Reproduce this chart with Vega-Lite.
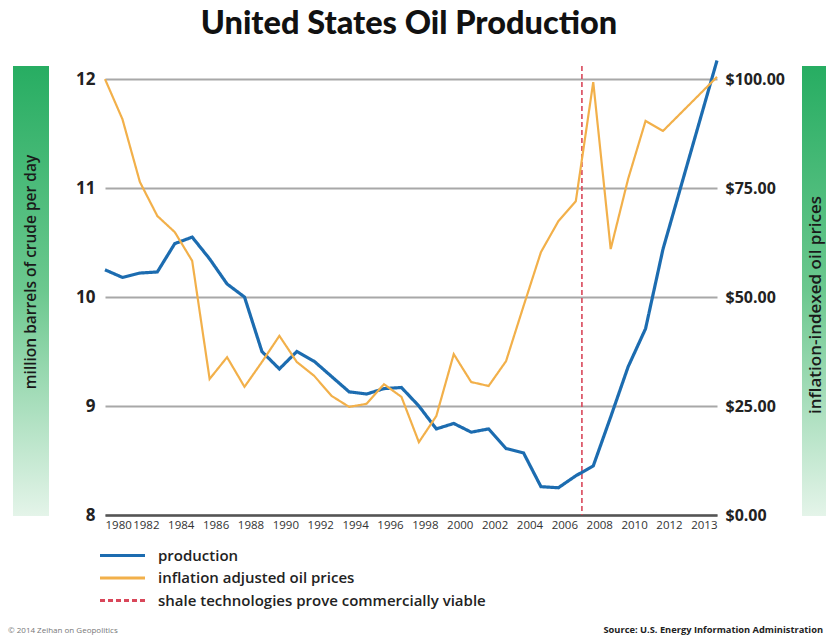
{
  "$schema": "https://vega.github.io/schema/vega-lite/v6.json",
  "background": "white",
  "padding": {"left": 8, "top": 7, "right": 0, "bottom": 0},
  "config": {"view": {"stroke": null}, "font": "Open Sans", "axisX": {"labelOverlap": false}},
  "title": {"text": "United States Oil Production", "font": "Lato", "fontSize": 32.5, "fontWeight": 900, "color": "#111111", "anchor": "middle", "offset": 14, "dx": -8},
  "datasets": {
    "production": [
      {"year": 1980, "value": 10.25}, {"year": 1981, "value": 10.18}, {"year": 1982, "value": 10.22}, {"year": 1983, "value": 10.23},
      {"year": 1984, "value": 10.49}, {"year": 1985, "value": 10.55}, {"year": 1986, "value": 10.35}, {"year": 1987, "value": 10.12},
      {"year": 1988, "value": 10.0}, {"year": 1989, "value": 9.5}, {"year": 1990, "value": 9.34}, {"year": 1991, "value": 9.5},
      {"year": 1992, "value": 9.41}, {"year": 1993, "value": 9.27}, {"year": 1994, "value": 9.13}, {"year": 1995, "value": 9.11},
      {"year": 1996, "value": 9.16}, {"year": 1997, "value": 9.17}, {"year": 1998, "value": 9.0}, {"year": 1999, "value": 8.79},
      {"year": 2000, "value": 8.84}, {"year": 2001, "value": 8.76}, {"year": 2002, "value": 8.79}, {"year": 2003, "value": 8.61},
      {"year": 2004, "value": 8.57}, {"year": 2005, "value": 8.26}, {"year": 2006, "value": 8.25}, {"year": 2007, "value": 8.36},
      {"year": 2008, "value": 8.45}, {"year": 2009, "value": 8.9}, {"year": 2010, "value": 9.36}, {"year": 2011, "value": 9.71},
      {"year": 2012, "value": 10.44}, {"year": 2013, "value": 12.17}
    ],
    "prices": [
      {"year": 1980, "price": 100.0}, {"year": 1981, "price": 90.8}, {"year": 1982, "price": 76.4}, {"year": 1983, "price": 68.6},
      {"year": 1984, "price": 64.9}, {"year": 1985, "price": 58.3}, {"year": 1986, "price": 31.2}, {"year": 1987, "price": 36.2},
      {"year": 1988, "price": 29.4}, {"year": 1989, "price": 35.1}, {"year": 1990, "price": 41.1}, {"year": 1991, "price": 35.1},
      {"year": 1992, "price": 31.9}, {"year": 1993, "price": 27.3}, {"year": 1994, "price": 24.8}, {"year": 1995, "price": 25.5},
      {"year": 1996, "price": 30.0}, {"year": 1997, "price": 27.1}, {"year": 1998, "price": 16.7}, {"year": 1999, "price": 22.7},
      {"year": 2000, "price": 36.9}, {"year": 2001, "price": 30.5}, {"year": 2002, "price": 29.6}, {"year": 2003, "price": 35.3},
      {"year": 2004, "price": 47.9}, {"year": 2005, "price": 60.3}, {"year": 2006, "price": 67.4}, {"year": 2007, "price": 72.0},
      {"year": 2008, "price": 99.3}, {"year": 2009, "price": 61.0}, {"year": 2010, "price": 77.1}, {"year": 2011, "price": 90.4},
      {"year": 2012, "price": 88.1}, {"year": 2013, "price": 100.5}
    ],
    "shale": [{"year": 2007.35}]
  },
  "bounds": "flush",
  "spacing": 56,
  "hconcat": [
    {
      "width": 36,
      "height": 450,
      "data": {"values": [{"label": "million barrels of crude per day"}]},
      "title": {"text": "© 2014 Zeihan on Geopolitics", "orient": "bottom", "anchor": "start", "baseline": "top", "offset": 111, "fontSize": 8, "fontWeight": "normal", "color": "#777777", "dx": -5},
      "layer": [
        {
          "mark": {"type": "rect", "color": {"gradient": "linear", "x1": 0, "y1": 0, "x2": 0, "y2": 1, "stops": [{"offset": 0, "color": "#27ad62"}, {"offset": 0.5, "color": "#6cc88f"}, {"offset": 1, "color": "#e4f4e9"}]}},
          "encoding": {}
        },
        {
          "mark": {"type": "text", "angle": -90, "fontSize": 15.5, "fontWeight": 600, "color": "#1a1a1a", "dx": 19, "align": "center", "baseline": "middle"},
          "encoding": {"text": {"field": "label"}}
        }
      ]
    },
    {
      "bounds": "flush",
      "spacing": 85,
      "hconcat": [
        {
          "width": 612,
          "height": 449,
          "encoding": {
            "x": {"field": "year", "type": "quantitative", "scale": {"domain": [1980, 2012, 2013], "range": [0, 558, 612], "nice": false, "zero": false},
              "axis": {"values": [1980, 1982, 1984, 1986, 1988, 1990, 1992, 1994, 1996, 1998, 2000, 2002, 2004, 2006, 2008, 2010, 2012, 2013], "format": "d", "labelFlush": true, "labelOverlap": false, "labelBound": false,
                "labelOffset": {"condition": {"test": "datum.value == 1980 || datum.value == 2013", "value": 0}, "value": 6},
                "grid": false, "ticks": false, "domain": true, "domainColor": "#555555", "domainWidth": 2.5, "labelFont": "Open Sans", "labelFontSize": 11.5, "labelColor": "#333333", "labelPadding": 4, "title": null}}
          },
          "layer": [
            {
              "data": {"name": "shale"},
              "mark": {"type": "rule", "strokeWidth": 1.6},
              "encoding": {
                "color": {"datum": "shale technologies prove commercially viable"},
                "strokeDash": {"datum": "shale technologies prove commercially viable"}
              }
            },
            {
              "data": {"name": "production"},
              "mark": {"type": "line", "strokeWidth": 3.2},
              "encoding": {
                "y": {"field": "value", "type": "quantitative", "scale": {"domain": [8, 12.12], "nice": false, "zero": false},
                  "axis": {"orient": "left", "values": [8, 9, 10, 11, 12], "grid": true, "gridColor": "#a8a8a8", "gridWidth": 2, "domain": false, "ticks": false, "labelFont": "Open Sans", "labelFontSize": 17, "labelFontWeight": "bold", "labelColor": "#222222", "labelPadding": 10, "title": null}},
                "color": {"datum": "production", "type": "nominal",
                  "scale": {"domain": ["production", "inflation adjusted oil prices", "shale technologies prove commercially viable"], "range": ["#1c6cb0", "#f2b04a", "#d9475a"]},
                  "legend": {"orient": "none", "legendX": 99, "legendY": 479, "title": null, "padding": 0, "symbolType": "M-2.5,0H2.5", "symbolSize": 324, "symbolStrokeWidth": 3, "labelFont": "Open Sans", "labelFontSize": 15, "labelFontWeight": 600, "labelColor": "#222222", "labelOffset": 25, "labelLimit": 500, "rowPadding": 3.5}},
                "strokeDash": {"datum": "production", "type": "nominal",
                  "scale": {"domain": ["production", "inflation adjusted oil prices", "shale technologies prove commercially viable"], "range": [[1, 0], [1, 0], [5, 3]]},
                  "legend": {"orient": "none", "legendX": 99, "legendY": 479, "title": null, "padding": 0, "symbolType": "M-2.5,0H2.5", "symbolSize": 324, "symbolStrokeWidth": 3, "labelFont": "Open Sans", "labelFontSize": 15, "labelFontWeight": 600, "labelColor": "#222222", "labelOffset": 25, "labelLimit": 500, "rowPadding": 3.5}}
              }
            },
            {
              "data": {"name": "prices"},
              "mark": {"type": "line", "strokeWidth": 2.2},
              "encoding": {
                "y": {"field": "price", "type": "quantitative", "scale": {"domain": [0, 103], "nice": false, "zero": false},
                  "axis": {"orient": "right", "values": [0, 25, 50, 75, 100], "format": "$.2f", "grid": false, "domain": false, "ticks": false, "labelFont": "Open Sans", "labelFontSize": 16, "labelFontWeight": "bold", "labelColor": "#222222", "labelPadding": 8, "title": null}},
                "color": {"datum": "inflation adjusted oil prices", "type": "nominal"},
                "strokeDash": {"datum": "inflation adjusted oil prices", "type": "nominal"}
              }
            }
          ],
          "resolve": {"scale": {"y": "independent"}, "axis": {"y": "independent"}}
        },
        {
          "width": 24,
          "height": 450,
          "data": {"values": [{"label": "inflation-indexed oil prices"}]},
          "title": {"text": "Source: U.S. Energy Information Administration", "orient": "bottom", "anchor": "end", "baseline": "top", "offset": 110, "fontSize": 9.3, "fontWeight": "bold", "color": "#222222", "dx": -3},
          "layer": [
            {
              "mark": {"type": "rect", "color": {"gradient": "linear", "x1": 0, "y1": 0, "x2": 0, "y2": 1, "stops": [{"offset": 0, "color": "#27ad62"}, {"offset": 0.5, "color": "#6cc88f"}, {"offset": 1, "color": "#e4f4e9"}]}},
              "encoding": {}
            },
            {
              "mark": {"type": "text", "angle": -90, "fontSize": 17, "fontWeight": 600, "color": "#1a1a1a", "dx": -14, "dy": 2, "align": "center", "baseline": "middle"},
              "encoding": {"text": {"field": "label"}}
            }
          ]
        }
      ]
    }
  ]
}
